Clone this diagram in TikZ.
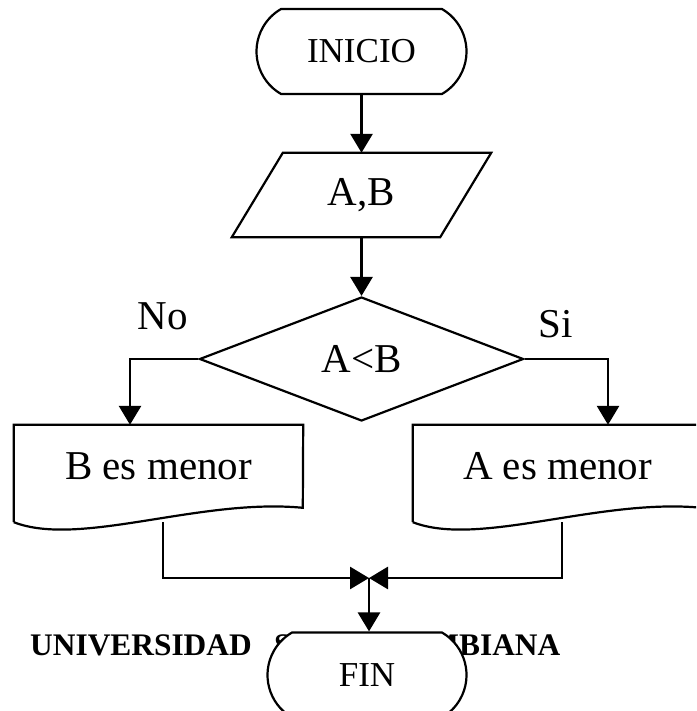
\documentclass[tikz,border=0pt]{standalone}
\usepackage{fontspec}
\setmainfont{Liberation Serif}
\usetikzlibrary{shapes.geometric,shapes.misc,arrows.meta,calc}

\begin{document}
\begin{tikzpicture}[x=1pt,y=-1pt,
  shapeline/.style={draw=black,line width=2.2pt},
  terminal/.style={shapeline,rounded rectangle,rounded rectangle arc length=120,
    minimum width=210pt,minimum height=85pt,inner sep=0pt,fill=white,
    font=\fontsize{35}{40}\selectfont},
  decision/.style={shapeline,diamond,minimum width=324pt,minimum height=124pt,
    inner sep=0pt,shape aspect=2.6,font=\fontsize{41}{48}\selectfont},
  holder/.style={minimum width=289pt,minimum height=97pt,inner sep=0pt},
  lbl/.style={font=\fontsize{41}{48}\selectfont},
  flow/.style={line width=2.8pt,-{Triangle[length=19pt,width=22pt]}}
]
\clip (0,0) rectangle (696,711);

% start
\node[terminal] (ini) at (361.5,51.5) {INICIO};

% input A,B (parallelogram drawn around a plain holder node)
\node[holder,minimum width=208pt,minimum height=84pt,lbl] (ab) at (361.5,195) {A,B};
\draw[shapeline] ([xshift=-25.5pt]ab.south west) -- ([xshift=-25.5pt]ab.south east)
  -- ([xshift=25.5pt]ab.north east) -- ([xshift=25.5pt]ab.north west) -- cycle;

% decision
\node[decision] (dec) at (361.5,359) {A<B};
\node[lbl] (no) at (163,316) {No};
\node[lbl] (si) at (556,324) {Si};

% output documents
\node[holder] (bm) at (158.5,473.5) {};
\node[lbl] (bmt) at ([yshift=7pt]bm.center) {B es menor};
\draw[shapeline] (bm.south west) -- (bm.north west) -- (bm.north east)
  -- ($(bm.north west)+(289,83)$)
  .. controls ($(bm.north west)+(186,73)$) and ($(bm.north west)+(66,123)$) .. (bm.south west);

\node[holder] (am) at (557.5,473.5) {};
\node[lbl] (amt) at ([yshift=7pt]am.center) {A es menor};
\draw[shapeline] (am.south west) -- (am.north west) -- (am.north east)
  -- ($(am.north west)+(289,83)$)
  .. controls ($(am.north west)+(186,73)$) and ($(am.north west)+(66,123)$) .. (am.south west);

% header text partly hidden behind the end terminal
\node[anchor=base west,inner sep=0pt,font=\bfseries\fontsize{31.4}{36}\selectfont] (uni)
  at (30,655) {UNIVERSIDAD\hspace{22.5pt}SURCOLOMBIANA};

% end
\node[terminal,minimum width=199pt] (fin) at (367,675) {FIN};
\coordinate (mrg) at (369,578);

% connectors
\draw[flow] (ini.south) -- (ab.north);
\draw[flow] (ab.south) -- (dec.north);
\draw[flow] (dec.west) -| ([xshift=-28.5pt]bm.north);
\draw[flow] (dec.east) -| ([xshift=50.5pt]am.north);
\draw[flow] ([xshift=4.5pt]bm.south) |- (mrg);
\draw[flow] ([xshift=4.5pt]am.south) |- (mrg);
\draw[flow] (mrg) -- (mrg |- fin.north);
\end{tikzpicture}
\end{document}
